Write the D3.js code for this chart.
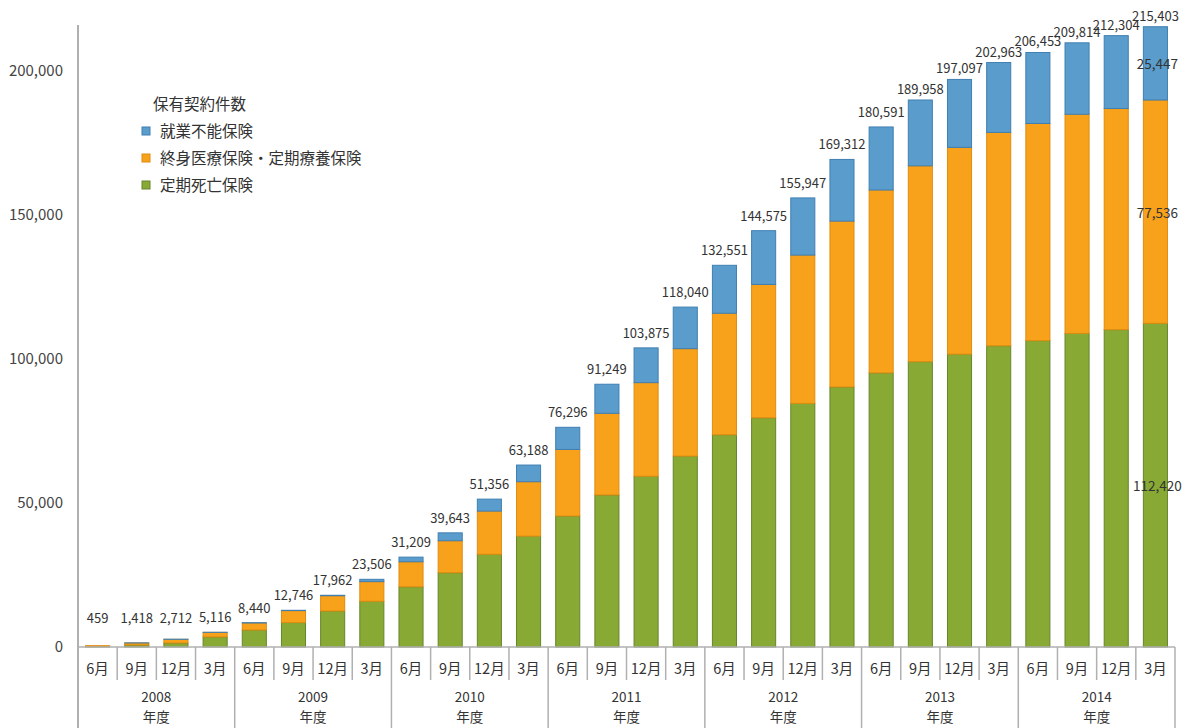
<!DOCTYPE html>
<html>
<head>
<meta charset="utf-8">
<script src="https://cdn.jsdelivr.net/npm/d3@7"></script>
<style>
  body { margin: 0; background: #fff; }
  text { font-family: "Noto Sans CJK JP", "Noto Sans", sans-serif; fill: #333; }
</style>
</head>
<body>
<script>
// fiscal years and quarter months
var years = ['2008', '2009', '2010', '2011', '2012', '2013', '2014'];
var months = ['6月', '9月', '12月', '3月'];

// totals shown above each bar
var totals = [459, 1418, 2712, 5116, 8440, 12746, 17962, 23506,
    31209, 39643, 51356, 63188, 76296, 91249, 103875, 118040,
    132551, 144575, 155947, 169312, 180591, 189958, 197097, 202963,
    206453, 209814, 212304, 215403];

// 定期死亡保険
var green = [200, 700, 1400, 3500, 5900, 8500, 12500, 15900,
    20900, 25800, 32200, 38500, 45500, 52800, 59300, 66300,
    73700, 79600, 84600, 90300, 95200, 99100, 101700, 104600,
    106400, 108900, 110200, 112420];

// 終身医療保険・定期療養保険
var orange = [259, 700, 1262, 1580, 2440, 4146, 5312, 6800,
    8700, 11100, 15000, 18900, 23100, 28350, 32500, 37300,
    42200, 46300, 51500, 57600, 63500, 68000, 71800, 74100,
    75400, 76100, 76800, 77536];

// 就業不能保険
var blue = [0, 18, 50, 36, 100, 100, 150, 806,
    1609, 2743, 4156, 5788, 7696, 10099, 12075, 14440,
    16651, 18675, 19847, 21412, 21891, 22858, 23597, 24263,
    24653, 24814, 25304, 25447];

var yTicks = [0, 50000, 100000, 150000, 200000];

var legendTitle = '保有契約件数';
var seriesNames = ['就業不能保険', '終身医療保険・定期療養保険', '定期死亡保険'];
var keys = ['blue', 'orange', 'green'];
var fills = { green: '#88aa35', orange: '#f8a11a', blue: '#5a9dcc' };
var strokes = { green: '#66852a', orange: '#e08c10', blue: '#3f7fb2' };

var W = 1185, H = 728;
var left = 78, right = 1175, y0 = 647, yTop = 25;

var rows = totals.map(function(t, i) {
    return { key: i, total: t, green: green[i], orange: orange[i], blue: blue[i] };
});

var svg = d3.select('body').append('svg')
    .attr('width', W)
    .attr('height', H);

var x = d3.scaleBand()
    .domain(d3.range(totals.length))
    .range([left, right])
    .paddingInner(0.36)
    .paddingOuter(0.18);

var y = d3.scaleLinear()
    .domain([0, 216000])
    .range([y0, yTop]);

var stack = d3.stack().keys(['green', 'orange', 'blue']);
var series = stack(rows);

// bars
svg.selectAll('g.series')
    .data(series)
    .enter()
    .append('g')
    .attr('class', 'series')
    .attr('fill', function(s) { return fills[s.key]; })
    .attr('stroke', function(s) { return strokes[s.key]; })
    .selectAll('rect')
    .data(function(s) { return s; })
    .enter()
    .append('rect')
    .attr('x', function(d, i) { return x(i) + 0.5; })
    .attr('width', x.bandwidth() - 1)
    .attr('y', function(d) { return y(d[1]); })
    .attr('height', function(d) { return Math.max(0, y(d[0]) - y(d[1])); })
    .attr('stroke-width', 1);

// total labels
svg.append('g')
    .selectAll('text')
    .data(rows)
    .enter()
    .append('text')
    .attr('x', function(d, i) { return x(i) + x.bandwidth() / 2; })
    .attr('y', function(d) {
        var ly = y(d.total) - (d.total > 185000 ? 6 : 10);
        return Math.min(ly, 623);
    })
    .attr('text-anchor', 'middle')
    .style('font-size', '13px')
    .text(function(d) { return d3.format(',')(d.total); });

// segment labels on the last bar
var last = rows.length - 1;
var lastParts = [
    { lo: 0, hi: green[last], v: green[last] },
    { lo: green[last], hi: green[last] + orange[last], v: orange[last] },
    { lo: green[last] + orange[last], hi: totals[last], v: blue[last] }
];
svg.append('g')
    .selectAll('text')
    .data(lastParts)
    .enter()
    .append('text')
    .attr('x', x(last) + x.bandwidth() / 2 + 2)
    .attr('y', function(d) { return (y(d.lo) + y(d.hi)) / 2 + 6; })
    .attr('text-anchor', 'middle')
    .style('font-size', '13.5px')
    .text(function(d) { return d3.format(',')(d.v); });

// y axis
var yAxis = svg.append('g')
    .attr('transform', 'translate(' + left + ',0)')
    .call(d3.axisLeft(y).tickValues(yTicks).tickSize(0).tickPadding(15).tickFormat(d3.format(',')));
yAxis.select('.domain').remove();
yAxis.selectAll('text').style('font-size', '15px').style('fill', '#444');

svg.append('line')
    .attr('x1', left).attr('x2', left)
    .attr('y1', yTop).attr('y2', H)
    .attr('stroke', '#b0b0b0')
    .attr('stroke-width', 2);

// category axis
svg.append('line')
    .attr('x1', left).attr('x2', right)
    .attr('y1', y0).attr('y2', y0)
    .attr('stroke', '#b0b0b0')
    .attr('stroke-width', 1.5);

var step = x.step();
var bounds = d3.range(totals.length + 1);
svg.append('g')
    .selectAll('line')
    .data(bounds)
    .enter()
    .append('line')
    .attr('x1', function(i) { return left + i * step; })
    .attr('x2', function(i) { return left + i * step; })
    .attr('y1', y0)
    .attr('y2', function(i) { return i % 4 === 0 ? H : 680; })
    .attr('stroke', '#b0b0b0')
    .attr('stroke-width', 1.5);

svg.append('g')
    .selectAll('text')
    .data(rows)
    .enter()
    .append('text')
    .attr('x', function(d, i) { return x(i) + x.bandwidth() / 2; })
    .attr('y', 674)
    .attr('text-anchor', 'middle')
    .style('font-size', '14.5px')
    .text(function(d, i) { return months[i % 4]; });

var yearG = svg.append('g')
    .selectAll('text')
    .data(years)
    .enter()
    .append('text')
    .attr('text-anchor', 'middle')
    .style('font-size', '13.5px')
    .attr('transform', function(d, i) {
        return 'translate(' + (left + (i * 4 + 2) * step) + ',0)';
    });
yearG.append('tspan').attr('x', 0).attr('y', 702).text(function(d) { return d; });
yearG.append('tspan').attr('x', 0).attr('y', 722).text('年度');

// legend
var legend = svg.append('g').attr('transform', 'translate(142,0)');
legend.append('text')
    .attr('x', 11).attr('y', 110)
    .style('font-size', '15.5px')
    .text(legendTitle);
var items = legend.selectAll('g.item')
    .data(keys)
    .enter()
    .append('g')
    .attr('class', 'item')
    .attr('transform', function(d, i) { return 'translate(0,' + (131 + i * 27) + ')'; });
items.append('rect')
    .attr('x', 0).attr('y', -4)
    .attr('width', 8).attr('height', 8)
    .attr('fill', function(d) { return fills[d]; })
    .attr('stroke', function(d) { return strokes[d]; });
items.append('text')
    .attr('x', 18).attr('y', 6)
    .style('font-size', '15.5px')
    .text(function(d, i) { return seriesNames[i]; });
</script>
</body>
</html>
